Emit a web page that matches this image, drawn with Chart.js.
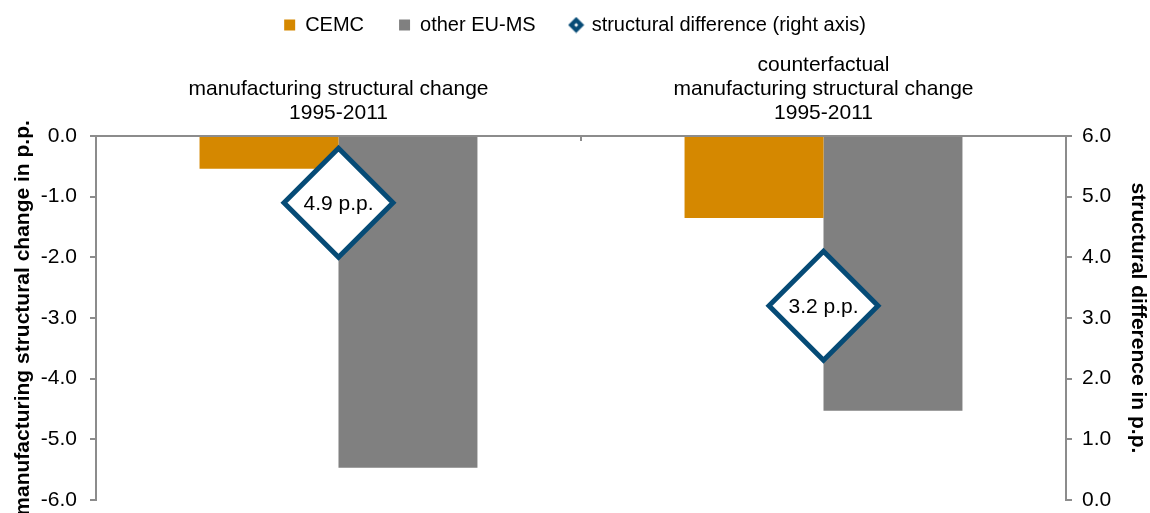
<!DOCTYPE html>
<html>
<head>
<meta charset="utf-8">
<title>Manufacturing structural change</title>
<script src="https://cdn.jsdelivr.net/npm/chart.js@4.4.0/dist/chart.umd.min.js"></script>
<style>
  html, body { margin: 0; padding: 0; background: #fff; }
  #wrap { width: 1150px; height: 513px; }
</style>
</head>
<body>
<div id="wrap"><canvas id="chart" width="1150" height="513"></canvas></div>
<script>
// categories (multi-line labels on the top axis)
const categories = [
  ["manufacturing structural change", "1995-2011"],
  ["counterfactual", "manufacturing structural change", "1995-2011"],
];
// left axis, p.p.
const cemcValues = [-0.54, -1.35];
const otherEuValues = [-5.47, -4.53];
// right axis, p.p.
const structuralDiff = [4.9, 3.2];

const orange = "#d58800";
const grey = "#808080";
const navy = "#064b76";
const axisGrey = "#8c8c8c";
const fontFamily = "'Liberation Sans', Arial, sans-serif";

Chart.defaults.font.family = fontFamily;
Chart.defaults.font.size = 21;
Chart.defaults.color = "#000";

// small filled diamond with a white centre for the legend
function legendDiamond() {
  const c = document.createElement("canvas");
  c.width = 17;
  c.height = 17;
  const g = c.getContext("2d");
  g.fillStyle = navy;
  g.beginPath();
  g.moveTo(8.5, 0.5);
  g.lineTo(16.5, 8.5);
  g.lineTo(8.5, 16.5);
  g.lineTo(0.5, 8.5);
  g.closePath();
  g.fill();
  g.fillStyle = "#fff";
  g.beginPath();
  g.moveTo(8.5, 6.5);
  g.lineTo(10.5, 8.5);
  g.lineTo(8.5, 10.5);
  g.lineTo(6.5, 8.5);
  g.closePath();
  g.fill();
  return c;
}

// writes the value inside each diamond
const diamondLabels = {
  id: "diamondLabels",
  afterDatasetsDraw(chart) {
    const meta = chart.getDatasetMeta(2);
    const ctx = chart.ctx;
    ctx.save();
    ctx.font = "21px " + fontFamily;
    ctx.fillStyle = "#000";
    ctx.textAlign = "center";
    ctx.textBaseline = "middle";
    meta.data.forEach((pt, i) => {
      ctx.fillText(structuralDiff[i].toFixed(1) + " p.p.", pt.x, pt.y + 1);
    });
    ctx.restore();
  },
};

// y tick labels: tiny line height so they don't push the plot bottom up
const yTickFont = { size: 21, lineHeight: 0.01 };

const ctx = document.getElementById("chart").getContext("2d");
new Chart(ctx, {
  type: "bar",
  data: {
    labels: categories,
    datasets: [
      {
        label: "CEMC",
        data: cemcValues,
        backgroundColor: orange,
        borderWidth: 0,
        pointStyle: "rect",
        yAxisID: "y",
        order: 1,
      },
      {
        label: "other EU-MS",
        data: otherEuValues,
        backgroundColor: grey,
        borderWidth: 0,
        pointStyle: "rect",
        yAxisID: "y",
        order: 1,
      },
      {
        type: "line",
        label: "structural difference (right axis)",
        data: structuralDiff,
        yAxisID: "y1",
        showLine: false,
        pointStyle: "rectRot",
        pointRadius: 54.5,
        pointHoverRadius: 54.5,
        pointBorderWidth: 5,
        pointHoverBorderWidth: 5,
        pointBackgroundColor: "#fff",
        pointBorderColor: navy,
        borderColor: navy,
        backgroundColor: "#fff",
        clip: false,
        order: 0,
      },
    ],
  },
  options: {
    responsive: false,
    animation: false,
    categoryPercentage: 0.573,
    barPercentage: 1,
    layout: {
      autoPadding: false,
      padding: { top: -20, left: 0, right: 0, bottom: 13 },
    },
    scales: {
      x: {
        position: "top",
        offset: true,
        grid: {
          drawOnChartArea: false,
          tickLength: -5,
          color: axisGrey,
          lineWidth: 2,
        },
        border: { color: axisGrey, width: 2 },
        ticks: {
          padding: 16,
          maxRotation: 0,
          autoSkip: false,
          font: { size: 21, lineHeight: 24 / 21 },
        },
      },
      y: {
        position: "left",
        min: -6,
        max: 0,
        ticks: {
          stepSize: 1,
          padding: 13,
          font: yTickFont,
          callback: (v) => v.toFixed(1),
        },
        grid: {
          drawOnChartArea: false,
          tickLength: 6,
          color: axisGrey,
          lineWidth: 2,
        },
        border: { color: axisGrey, width: 2 },
        title: {
          display: true,
          text: "manufacturing structural change in p.p.",
          font: { size: 21, weight: "bold" },
          padding: { top: 10.4, bottom: -7.8 },
        },
      },
      y1: {
        position: "right",
        min: 0,
        max: 6,
        ticks: {
          stepSize: 1,
          padding: 10,
          font: yTickFont,
          callback: (v) => v.toFixed(1),
        },
        grid: {
          drawOnChartArea: false,
          tickLength: 6,
          color: axisGrey,
          lineWidth: 2,
        },
        border: { color: axisGrey, width: 2 },
        title: {
          display: true,
          text: "structural difference in p.p.",
          font: { size: 21, weight: "bold" },
          padding: { top: -0.6, bottom: 4.2 },
        },
      },
    },
    plugins: {
      tooltip: { enabled: false },
      legend: {
        position: "top",
        maxHeight: 57,
        labels: {
          usePointStyle: true,
          boxWidth: 11,
          boxHeight: 11,
          padding: 35,
          font: { size: 20 },
          sort: (a, b) => a.datasetIndex - b.datasetIndex,
          generateLabels(chart) {
            const items = Chart.defaults.plugins.legend.labels.generateLabels(chart);
            return items.map((item) => {
              if (item.datasetIndex === 2) {
                item.pointStyle = legendDiamond();
              }
              item.lineWidth = 0;
              return item;
            });
          },
        },
      },
    },
  },
  plugins: [diamondLabels],
});
</script>
</body>
</html>
